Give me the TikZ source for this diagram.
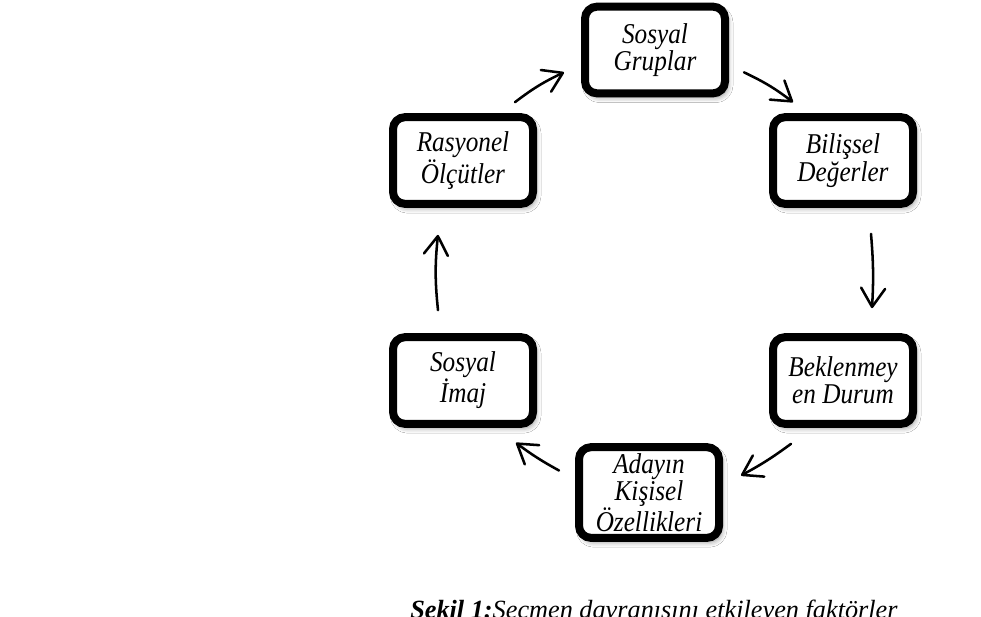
\documentclass[tikz,border=0pt]{standalone}
\usepackage{fontspec}
\setmainfont{Liberation Serif}
\newfontfamily\boxfont[FakeStretch=0.88]{Liberation Serif}
\usetikzlibrary{arrows.meta,calc,shadows.blur}
\begin{document}
\begin{tikzpicture}[x=0.75pt,y=-0.75pt,
  box/.style={draw=black, fill=white, line width=6pt, rounded corners=9pt,
    minimum width=105pt, minimum height=65pt, inner sep=0pt, align=center,
    font=\boxfont\fontsize{21.5}{20.5}\selectfont\itshape,
    blur shadow={shadow xshift=2pt, shadow yshift=-3pt, shadow blur radius=4pt, shadow opacity=45}},
  arr/.style={line width=1.9pt, line cap=round,
    -{Straight Barb[length=14pt,width=18pt,line width=1.9pt,round]}}
]
\useasboundingbox (0,0) rectangle (981,617);
\fill[white] (0,0) rectangle (981,617);

\node[box] (g) at (655,50) {Sosyal\\Gruplar};
\node[box] (r) at (463,160.5) {Rasyonel\\Ölçütler};
\node[box] (b) at (843,160.5) {Bilişsel\\Değerler};
\node[box] (i) at (463,380.5) {Sosyal\\İmaj};
\node[box] (e) at (843,380.5) {Beklenmey\\en Durum};
\node[box, minimum height=68pt, font=\boxfont\fontsize{21.5}{20}\selectfont\itshape] (a) at (649,492.5) {Adayın\\Kişisel\\Özellikleri};

\draw[arr] ($(r.north east)+(-22,-11)$) to[bend left=6] ($(g.south west)+(-17,-25)$);
\draw[arr] ($(g.south east)+(15,-25)$) to[bend left=6] ($(b.north west)+(24,-11)$);
\draw[arr] ($(b.south)+(28,26)$) to[bend left=4] ($(e.north)+(29,-25)$);
\draw[arr] ($(e.south west)+(22,16)$) to[bend left=4] ($(a.east)+(18,-17)$);
\draw[arr] ($(a.west)+(-16,-22)$) to[bend left=4] ($(i.south east)+(-21,15)$);
\draw[arr] ($(i.north)+(-25,-23)$) to[bend left=6] ($(r.south)+(-25,27)$);

\node[anchor=base west, inner sep=0pt, font=\fontsize{19.7}{21}\selectfont] (cap) at (410,618)
  {\textbf{\textit{Şekil 1:}}\textit{Seçmen davranışını etkileyen faktörler}};
\end{tikzpicture}
\end{document}
